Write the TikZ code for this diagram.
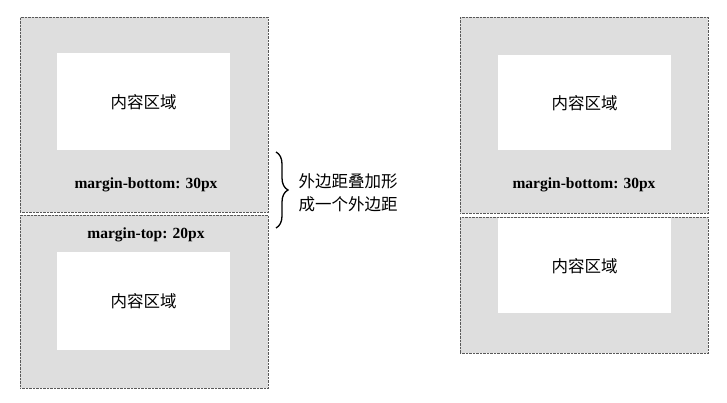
\documentclass[tikz,border=0pt]{standalone}
\usepackage{fontspec}
\setmainfont{Liberation Serif}
\newfontfamily\cjk{Noto Sans CJK SC}
\usetikzlibrary{positioning,decorations.pathreplacing}

\begin{document}
\begin{tikzpicture}[ % 坐标单位按像素
        x=1pt, y=-1pt, % y 轴向下
        marginbox/.style={draw=black!65, densely dotted, fill=black!13, inner sep=0pt, anchor=north west, minimum width=248pt},
        contentbox/.style={fill=white, inner sep=0pt, anchor=north west, minimum width=173pt, font=\cjk\fontsize{16.5}{18}\selectfont},
        marginlabel/.style={font=\bfseries\fontsize{15.5}{18}\selectfont}
      ]
      \useasboundingbox (0,0) rectangle (727,403);
      %% 左图：两个盒子
      \node[marginbox, minimum height=195pt] (boxA) at (20,17) {};
      \node[marginbox, minimum height=173pt] (boxB) at (20,215) {};
      \node[contentbox, minimum height=97pt] (contentA) at (57,53) {内容区域};
      \node[contentbox, minimum height=98pt] (contentB) at (57,252) {内容区域};
      \node[marginlabel] (bottomA) at (146,185) {margin-bottom: 30px};
      \node[marginlabel] (topB) at (146,235) {margin-top: 20px};
      %% 大括号与说明
      \coordinate (braceTop) at (276,152);
      \coordinate (braceBot) at (276,228);
      \draw[line width=1.3pt, decorate, decoration={brace, amplitude=12pt}] (braceTop) -- (braceBot);
      \node[anchor=west, align=left, font=\cjk\fontsize{16.5}{23}\selectfont] (note) at (295,193) {外边距叠加形\\成一个外边距};
      %% 右图：两个盒子
      \node[marginbox, minimum height=196pt] (boxC) at (460,17) {};
      \node[marginbox, minimum height=136pt] (boxD) at (460,217) {};
      \node[contentbox, minimum height=95pt] (contentC) at (498,55) {内容区域};
      \node[contentbox, minimum height=95pt] (contentD) at (498,218) {内容区域};
      \node[marginlabel] (bottomC) at (584,185) {margin-bottom: 30px};
\end{tikzpicture}
\end{document}
